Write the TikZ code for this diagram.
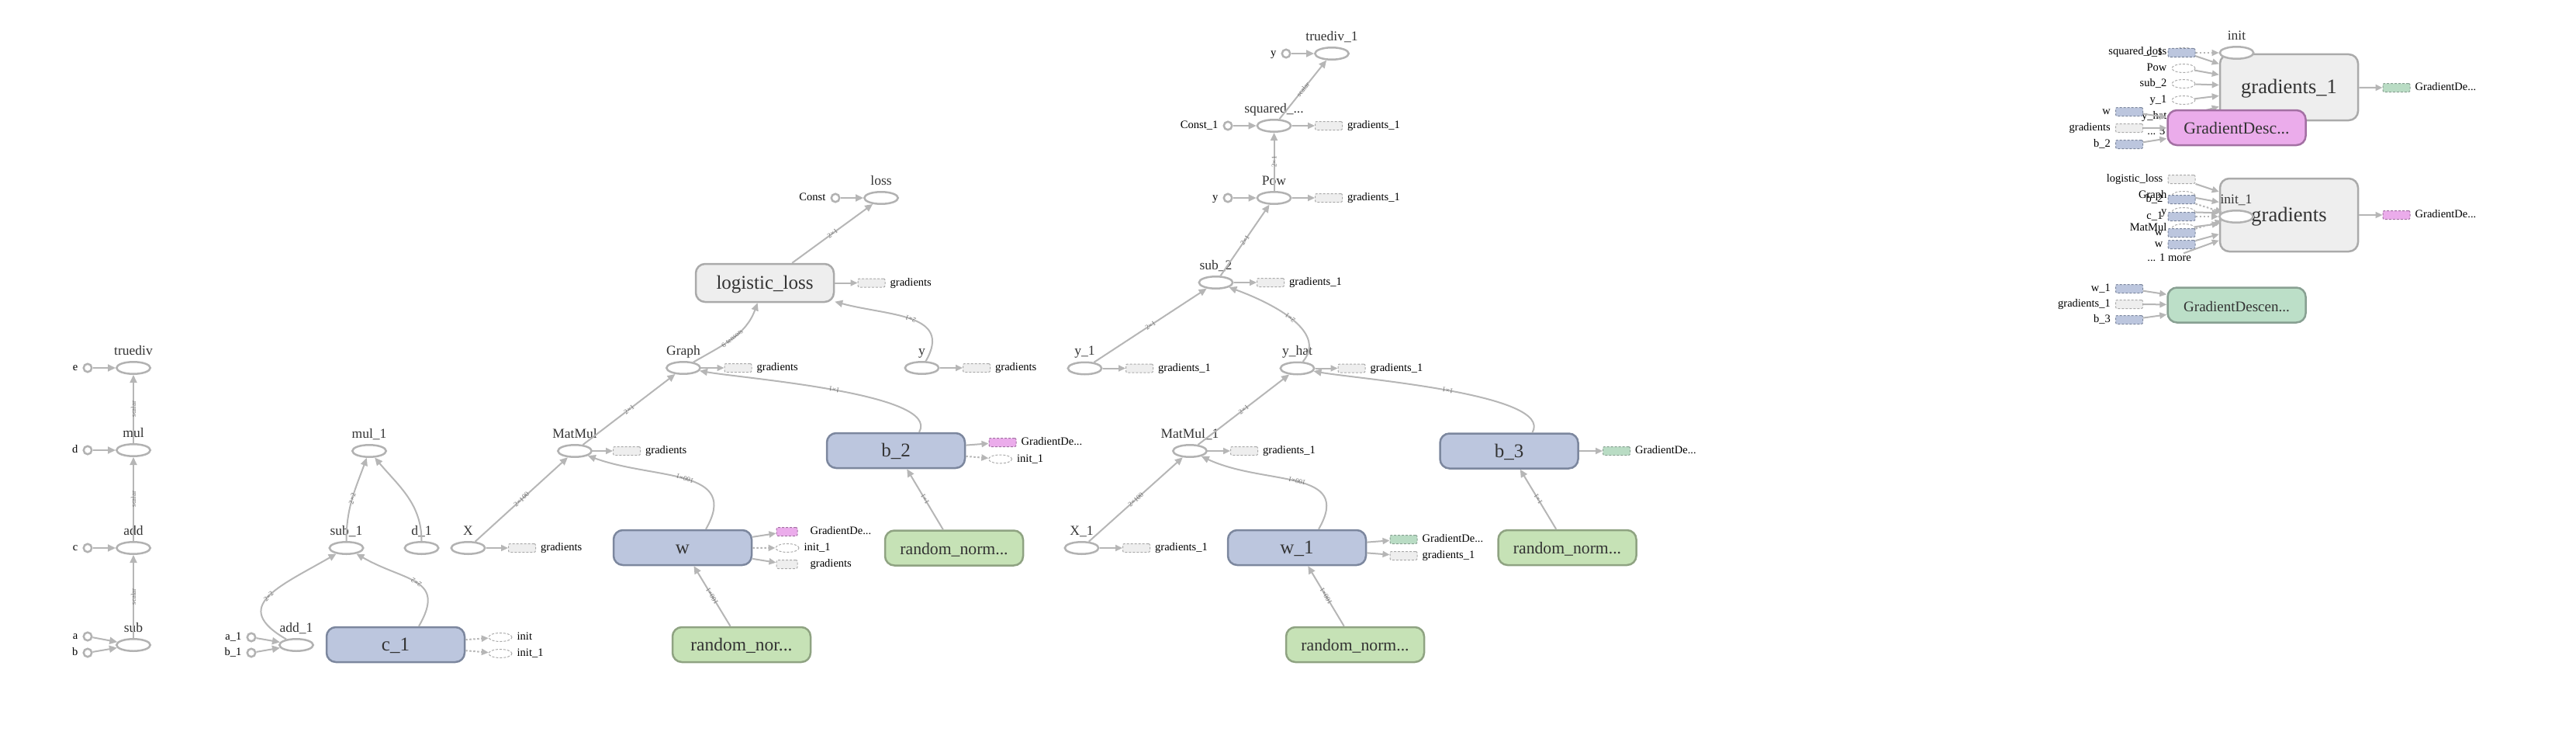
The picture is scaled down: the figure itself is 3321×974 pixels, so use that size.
\documentclass[tikz,border=0pt]{standalone}
\usepackage{fontspec}
\setmainfont{Liberation Serif}
\usetikzlibrary{arrows.meta,shapes.geometric,positioning}

\definecolor{opGray}{RGB}{178,178,178}
\definecolor{edgeGray}{RGB}{182,182,182}
\definecolor{txtGray}{RGB}{51,51,51}
\definecolor{blueFill}{RGB}{188,198,222}
\definecolor{blueLine}{RGB}{124,135,158}
\definecolor{greenFill}{RGB}{198,226,182}
\definecolor{greenLine}{RGB}{143,163,130}
\definecolor{mintFill}{RGB}{188,223,200}
\definecolor{mintLine}{RGB}{136,160,146}
\definecolor{annoGreen}{RGB}{185,220,196}
\definecolor{pinkFill}{RGB}{235,172,235}
\definecolor{pinkLine}{RGB}{163,112,163}
\definecolor{boxFill}{RGB}{238,238,238}
\definecolor{boxLine}{RGB}{170,170,170}

\newcommand{\opFont}{\fontsize{17.5}{20}\selectfont}
\newcommand{\annoFont}{\fontsize{14.5}{16}\selectfont}
\newcommand{\boxFont}{\fontsize{25}{28}\selectfont}
\newcommand{\edgeFont}{\fontsize{9}{10}\selectfont}

\begin{document}
\begin{tikzpicture}
[x=1pt, y=1pt, label distance=6pt,
  opDecorate/.style={ellipse, draw=opGray, line width=2.5pt, fill=white,
    minimum width=43.5pt, minimum height=15.5pt, inner sep=0pt},
  opLabel/.style={font=\opFont, text=txtGray, inner sep=0pt, text depth=0pt, yshift=1.5pt},
  constDecorate/.style={circle, draw=opGray, line width=2.5pt, fill=white,
    minimum size=10.5pt, inner sep=0pt},
  annoText/.style={font=\annoFont, text=black, inner sep=0pt, text height=10pt, text depth=3pt},
  boxDecorate/.style={rectangle, rounded corners=12pt, line width=2.5pt,
    minimum width=178pt, minimum height=45pt, inner sep=0pt,
    font=\boxFont, text=txtGray, text height=20pt, text depth=4pt},
  blueBox/.style={boxDecorate, draw=blueLine, fill=blueFill},
  greenBox/.style={boxDecorate, draw=greenLine, fill=greenFill},
  grayBox/.style={boxDecorate, draw=boxLine, fill=boxFill},
  pinkBox/.style={boxDecorate, draw=pinkLine, fill=pinkFill},
  mintBox/.style={boxDecorate, draw=mintLine, fill=mintFill},
  annoBox/.style={rectangle, rounded corners=2pt, line width=1pt, dash pattern=on 3pt off 2pt,
    minimum width=35pt, minimum height=11pt, inner sep=0pt},
  grayAnno/.style={annoBox, draw=boxLine, fill=boxFill},
  blueAnno/.style={annoBox, draw=blueLine, fill=blueFill},
  pinkAnno/.style={annoBox, draw=pinkLine, fill=pinkFill},
  greenAnno/.style={annoBox, draw=mintLine, fill=annoGreen},
  annoEllipse/.style={ellipse, draw=boxLine, line width=1pt, dash pattern=on 3pt off 2pt,
    minimum width=30pt, minimum height=11pt, inner sep=0pt}]
\useasboundingbox (0,0) rectangle (3321,-974);
%% op nodes
\foreach \nodename/\x/\y/\txt in {
  truediv/172/474/truediv, mul/172/580/mul, add/172/706/add, sub/172/831/sub,
  mul1/476/581/mul\_1, sub1/446.5/706/sub\_1, d1/543.5/706/d\_1, add1/382/831/add\_1,
  X/603.5/706/X, MatMul/741/581/MatMul, Graph/881/474/Graph, y/1188.5/474/y,
  loss/1136/255/loss, truediv1/1717/69/truediv\_1, Pow/1642.5/255/Pow,
  sub2/1567.5/364/sub\_2, y1/1398.5/474.5/y\_1, yhat/1672.5/474.5/y\_hat,
  MatMul1/1534/581/MatMul\_1, X1/1394.5/706/X\_1}
{
  \node (\nodename) at (\x,-\y) [opDecorate, label={[opLabel]above:\txt}] {};
}
\node (squared) at (1642.5,-162) [opDecorate, label={[opLabel]above:squared\_...}] {};
%% constant inputs
\foreach \nodename/\x/\y/\txt in {
  e/113/474/e, d/113/580/d, c/113/706/c, a/113/820/a, b/113/841/b,
  a1/324/821/a\_1, b1/324/841/b\_1, Const/1077/255/Const,
  yDiv/1658/69/y, Const1/1583/162/Const\_1, yPow/1583/255/y}
{
  \node (\nodename) at (\x,-\y) [constDecorate, label={[annoText]left:\txt}] {};
}
%% variables and groups
\node (c1) at (510,-830.5) [blueBox] {c\_1};
\node (w) at (880,-705.5) [blueBox] {w};
\node (rnW) at (956,-830.5) [greenBox, font={\fontsize{23.5}{26}\selectfont}] {random\_nor...};
\node (logistic) at (986,-364.5) [grayBox, minimum height=49pt] {logistic\_loss};
\node (b2) at (1155,-580.5) [blueBox] {b\_2};
\node (rnB2) at (1230,-706) [greenBox, font={\fontsize{21.7}{24}\selectfont}] {random\_norm...};
\node (w1) at (1672,-705.5) [blueBox] {w\_1};
\node (b3) at (1945.5,-581) [blueBox] {b\_3};
\node (rnB3) at (2020.5,-705.5) [greenBox, font={\fontsize{21.7}{24}\selectfont}] {random\_norm...};
\node (rnW1) at (1747,-830.5) [greenBox, font={\fontsize{21.7}{24}\selectfont}] {random\_norm...};
%% output annotations
\foreach \nodename/\x/\y/\sty/\txt in {
  gX/673/706/grayAnno/gradients, gMatMul/808/581/grayAnno/gradients,
  gGraph/951.5/474/grayAnno/gradients, gY/1259/474/grayAnno/gradients,
  gLogistic/1123.5/364.5/grayAnno/gradients,
  gSquared/1713/162/grayAnno/gradients\_1, gPow/1713/255/grayAnno/gradients\_1,
  gSub2/1638/364/grayAnno/gradients\_1, gY1/1469/474.5/grayAnno/gradients\_1,
  gYhat/1742.5/474.5/grayAnno/gradients\_1, gMatMul1/1604/581/grayAnno/gradients\_1,
  gX1/1465/706/grayAnno/gradients\_1, w1G/1809.5/716/grayAnno/gradients\_1,
  c1Init/645/821/annoEllipse/init, c1Init1/645/842/annoEllipse/init\_1,
  b2Init1/1289.5/591.5/annoEllipse/init\_1}
{
  \node (\nodename) at (\x,-\y) [\sty, label={[annoText]right:\txt}] {};
}
\node (b2GD) at (1292.5,-570) [pinkAnno, label={[annoText]right:GradientDe...}] {};
\node (w1GD) at (1809.5,-695) [greenAnno, label={[annoText]right:GradientDe...}] {};
\node (b3GD) at (2084,-581) [greenAnno, label={[annoText]right:GradientDe...}] {};
\node (wGD) at (1014.5,-685) [pinkAnno, minimum width=27pt,
  label={[annoText, xshift=10pt]right:GradientDe...}] {};
\node (wInit1) at (1015,-706) [annoEllipse, label={[annoText]right:init\_1}] {};
\node (wG) at (1014.5,-727) [grayAnno, minimum width=27pt,
  label={[annoText, xshift=10pt]right:gradients}] {};
%% edges
\tikzstyle{edgeStyle}=[draw=edgeGray, line width=2pt, -{Triangle[length=10pt,width=9pt]}]
\tikzstyle{annoEdge}=[draw=edgeGray, line width=2pt, -{Triangle[length=9pt,width=8pt]}]
\tikzstyle{ctrlEdge}=[annoEdge, dash pattern=on 2.5pt off 2.5pt]
\tikzstyle{edgeLabel}=[font=\edgeFont, text=black!55, inner sep=0pt, sloped, allow upside down, midway]
\foreach \startnode/\endnode/\dims in {
  sub/add/scalar, add/mul/scalar, mul/truediv/scalar,
  X/MatMul/2×100, rnW/w/100×1, MatMul/Graph/2×1,
  logistic/loss/2×1, rnB2/b2/1×1,
  y1/sub2/2×1, sub2/Pow/2×1, Pow/squared/2×1, squared/truediv1/scalar,
  MatMul1/yhat/2×1, X1/MatMul1/2×100, rnW1/w1/100×1, rnB3/b3/1×1}
{
  \draw[edgeStyle] (\startnode) -- node[edgeLabel] {\dims} (\endnode);
}
\foreach \startnode/\endnode in {
  e/truediv, d/mul, c/add, a/sub, b/sub, a1/add1, b1/add1,
  Const/loss, yDiv/truediv1, Const1/squared, yPow/Pow}
{
  \draw[edgeStyle] (\startnode) -- (\endnode);
}
\draw[edgeStyle] (add1) to[out=150, in=210, looseness=1.7] node[edgeLabel] {2×2} (sub1);
\draw[edgeStyle] ([xshift=30pt]c1.north) to[out=60, in=-30, looseness=1.5] node[edgeLabel] {2×2} (sub1);
\draw[edgeStyle] (sub1) to[out=90, in=-110] node[edgeLabel] {2×2} (mul1);
\draw[edgeStyle] (d1) to[out=90, in=-50] (mul1);
\draw[edgeStyle] ([xshift=30pt]w.north) to[out=60, in=-20, looseness=1.3] node[edgeLabel] {100×1} (MatMul);
\draw[edgeStyle] ([xshift=30pt]b2.north) to[out=60, in=-10, looseness=0.5] node[edgeLabel] {1×1} (Graph);
\draw[edgeStyle] (Graph) to[out=30, in=-110] node[edgeLabel] {6 tensors} (logistic);
\draw[edgeStyle] (y) to[out=60, in=-15, looseness=1.3] node[edgeLabel] {2×1} (logistic);
\draw[edgeStyle] (yhat) to[out=50, in=-20] node[edgeLabel] {2×1} (sub2);
\draw[edgeStyle] ([xshift=30pt]b3.north) to[out=60, in=-10, looseness=0.5] node[edgeLabel] {1×1} (yhat);
\draw[edgeStyle] ([xshift=28pt]w1.north) to[out=60, in=-25, looseness=1.3] node[edgeLabel] {100×1} (MatMul1);
\foreach \startnode/\endnode in {
  X/gX, MatMul/gMatMul, w/wGD, w/wG, Graph/gGraph, y/gY, logistic/gLogistic,
  b2/b2GD, squared/gSquared, Pow/gPow, sub2/gSub2, y1/gY1, yhat/gYhat,
  MatMul1/gMatMul1, X1/gX1, w1/w1GD, w1/w1G, b3/b3GD}
{
  \draw[annoEdge] (\startnode) -- (\endnode);
}
\foreach \startnode/\endnode in {c1/c1Init, c1/c1Init1, w/wInit1, b2/b2Init1}
{
  \draw[ctrlEdge] (\startnode) -- (\endnode);
}
%% gradients_1 and init
\node (grads1) at (2951,-112.5) [grayBox, minimum height=85pt, font={\fontsize{26.5}{29}\selectfont}] {gradients\_1};
\foreach \nodename/\y/\txt in {
  inSq/67/squared\_loss, inPow/88/Pow, inSub2/108/sub\_2, inY1/129/y\_1, inYhat/150/y\_hat}
{
  \node (\nodename) at (2815,-\y) [annoEllipse, label={[annoText]left:\txt}] {};
  \draw[annoEdge] (\nodename) -- (grads1);
}
\node (more3) at (2825,-170) [annoText, anchor=east] {... 3 more};
\draw[annoEdge] (more3) -- (grads1);
\node (init) at (2883.5,-68) [opDecorate, label={[opLabel]above:init}] {};
\node (inC1) at (2812.5,-68) [blueAnno, label={[annoText]left:c\_1}] {};
\draw[ctrlEdge] (inC1) -- (init);
%% gradients and init_1
\node (grads) at (2951,-277) [grayBox, minimum height=94pt, font={\fontsize{26.5}{29}\selectfont}] {gradients};
\foreach \nodename/\sty/\x/\y/\txt in {
  inLogistic/grayAnno/2812.5/231/logistic\_loss, inGraph/annoEllipse/2815/252/Graph,
  inY/annoEllipse/2815/273/y, inMatMul/annoEllipse/2815/294/MatMul, inW/blueAnno/2812.5/315/w}
{
  \node (\nodename) at (\x,-\y) [\sty, label={[annoText]left:\txt}] {};
  \draw[annoEdge] (\nodename) -- (grads);
}
\node (more1) at (2825,-333) [annoText, anchor=east] {... 1 more};
\draw[annoEdge] (more1) -- (grads);
\node (init1) at (2883,-279) [opDecorate, label={[opLabel]above:init\_1}] {};
\foreach \nodename/\y/\txt in {inB2/257/b\_2, inC1b/279/c\_1, inWb/300/w}
{
  \node (\nodename) at (2812.5,-\y) [blueAnno, label={[annoText]left:\txt}] {};
  \draw[ctrlEdge] (\nodename) -- (init1);
}
%% gradient descent steps
\node (pinkGD) at (2883.5,-164.5) [pinkBox, font={\fontsize{21.8}{24}\selectfont}] {GradientDesc...};
\foreach \nodename/\sty/\y/\txt in {pinkW/blueAnno/144/w, pinkG/grayAnno/165/gradients, pinkB2/blueAnno/186/b\_2}
{
  \node (\nodename) at (2745,-\y) [\sty, label={[annoText]left:\txt}] {};
  \draw[annoEdge] (\nodename) -- (pinkGD);
}
\node (mintGD) at (2883.5,-393) [mintBox, font={\fontsize{19}{22}\selectfont}] {GradientDescen...};
\foreach \nodename/\sty/\y/\txt in {mintW1/blueAnno/372/w\_1, mintG/grayAnno/392/gradients\_1, mintB3/blueAnno/412/b\_3}
{
  \node (\nodename) at (2745,-\y) [\sty, label={[annoText]left:\txt}] {};
  \draw[annoEdge] (\nodename) -- (mintGD);
}
\node (grads1GD) at (3089.5,-113) [greenAnno, label={[annoText]right:GradientDe...}] {};
\node (gradsGD) at (3089.5,-277) [pinkAnno, label={[annoText]right:GradientDe...}] {};
\draw[annoEdge] (grads1) -- (grads1GD);
\draw[annoEdge] (grads) -- (gradsGD);
\end{tikzpicture}
\end{document}
